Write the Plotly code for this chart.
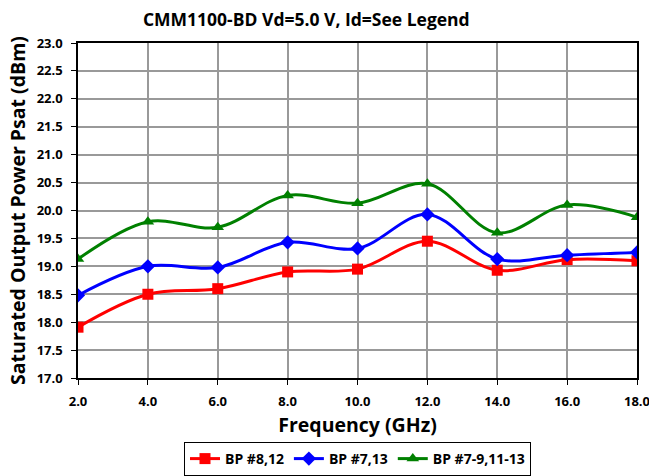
import plotly.graph_objects as go

freq = [2, 4, 6, 8, 10, 12, 14, 16, 18]
bp_8_12 = [17.91, 18.50, 18.60, 18.90, 18.95, 19.45, 18.93, 19.12, 19.10]
bp_7_13 = [18.48, 19.00, 18.98, 19.43, 19.32, 19.93, 19.13, 19.20, 19.25]
bp_7_9_11_13 = [19.13, 19.80, 19.70, 20.27, 20.13, 20.48, 19.60, 20.10, 19.88]
y_ticks = [17.0, 17.5, 18.0, 18.5, 19.0, 19.5, 20.0, 20.5, 21.0, 21.5, 22.0, 22.5, 23.0]

series = [
    ("BP #8,12", bp_8_12, "#FF0000", "square"),
    ("BP #7,13", bp_7_13, "#0000FF", "diamond"),
    ("BP #7-9,11-13", bp_7_9_11_13, "#008000", "triangle-up"),
]

font_family = "Open Sans"

fig = go.Figure()
for name, ys, color, sym in series:
    fig.add_trace(go.Scatter(
        x=freq, y=ys, name=f"<b>{name}</b>", mode="lines+markers",
        line=dict(color=color, width=3, shape="spline", smoothing=1),
        marker=dict(symbol=sym, size=11, color=color),
    ))

fig.update_layout(
    width=649, height=476,
    paper_bgcolor="white", plot_bgcolor="white",
    font=dict(family=font_family, color="black", size=13),
    title=dict(text="<b>CMM1100-BD Vd=5.0 V, Id=See Legend</b>",
               xref="container", x=0.472, xanchor="center",
               yref="container", y=0.958, yanchor="middle",
               font=dict(size=17.5)),
    margin=dict(l=78, r=12, t=43, b=98),
    xaxis=dict(
        range=[2, 18], tickvals=freq, ticktext=[f"<b>{v:.1f}</b>" for v in freq],
        showgrid=True, gridcolor="#999999", gridwidth=2,
        showline=True, linecolor="black", linewidth=1.5, mirror=True,
        ticks="outside", ticklen=5, tickcolor="black", ticklabelstandoff=6,
        ticklabeloverflow="allow",
        title=dict(text="<b>Frequency (GHz)</b>", font=dict(size=19.5), standoff=9),
        zeroline=False, automargin=False,
    ),
    yaxis=dict(
        range=[17, 23],
        tickvals=y_ticks,
        ticktext=[f"<b>{v:.1f}</b>" for v in y_ticks],
        showgrid=True, gridcolor="#999999", gridwidth=2,
        showline=True, linecolor="black", linewidth=1.5, mirror=True,
        ticks="outside", ticklen=5, tickcolor="black", ticklabelstandoff=6,
        ticklabeloverflow="allow",
        title=dict(text="<b>Saturated Output Power Psat (dBm)</b>", font=dict(size=19.5), standoff=6),
        zeroline=False, automargin=False,
    ),
    legend=dict(
        orientation="h", xref="paper", x=0.5, xanchor="center",
        yref="container", y=-0.02, yanchor="bottom",
        bordercolor="black", borderwidth=1, font=dict(size=14),
        itemwidth=30,
    ),
)

# the page body has a default 8px margin; drop it so the figure sits at 0,0
fig.write_html("out.html", config={"displayModeBar": False},
               post_script="document.body.style.margin='0';")
